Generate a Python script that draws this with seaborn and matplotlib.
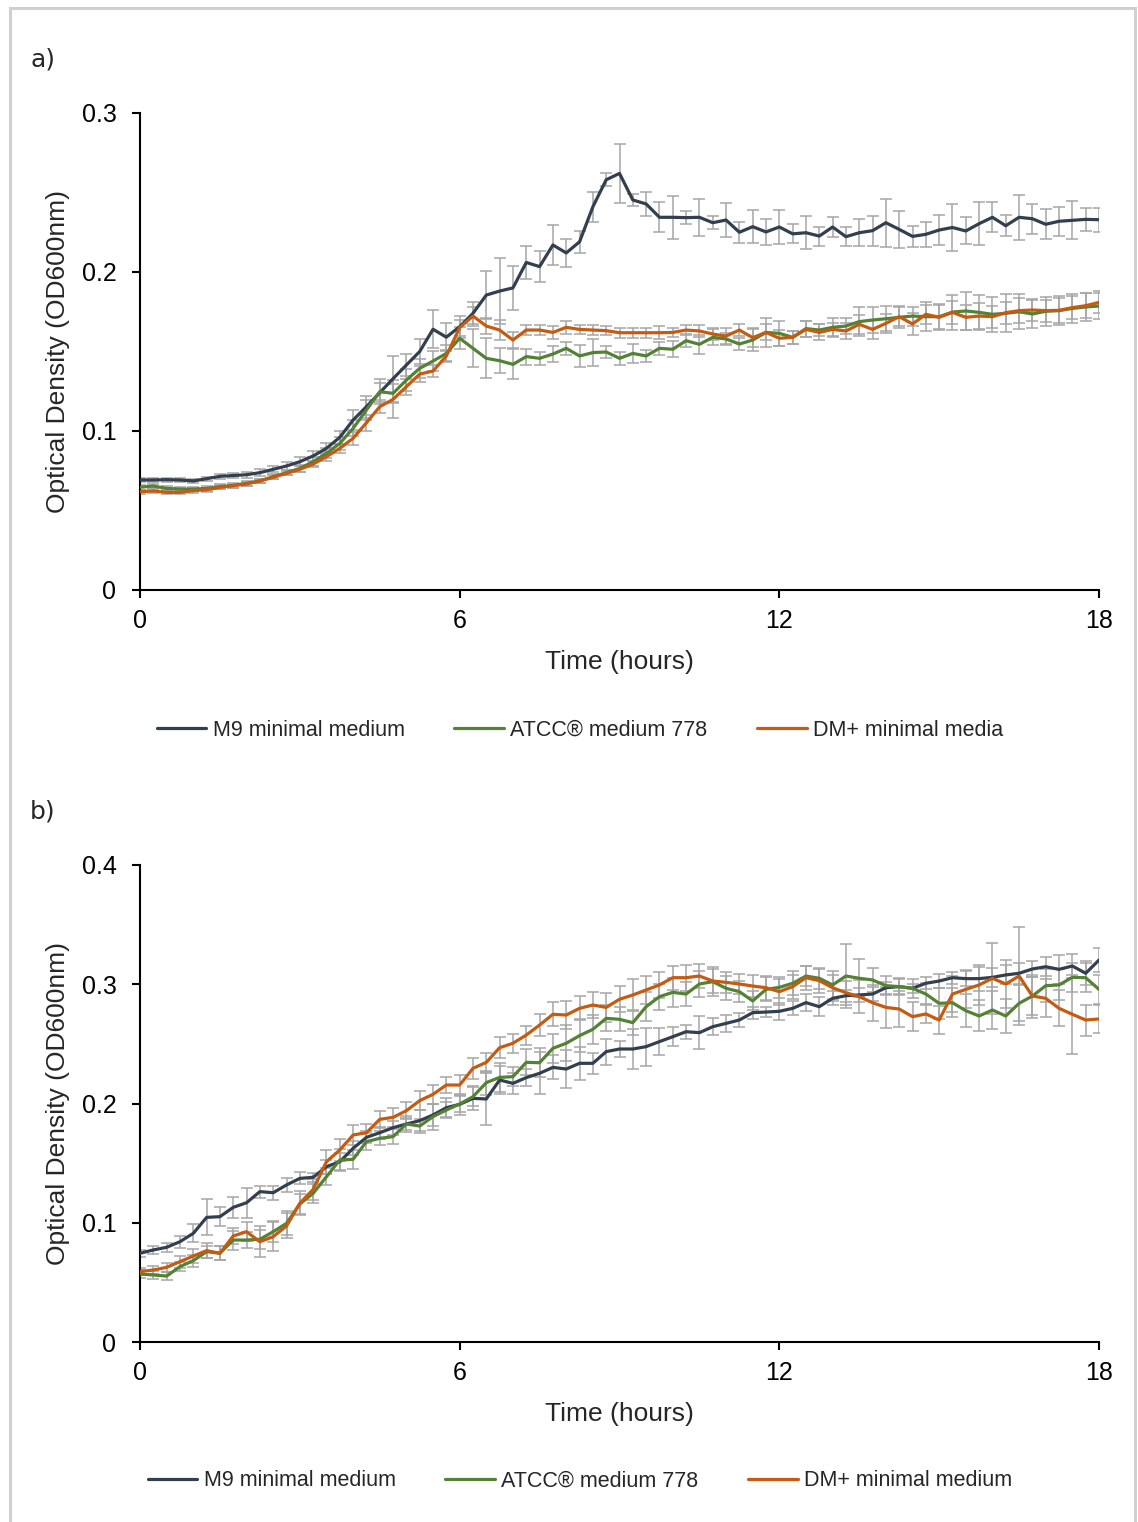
import numpy as np
import pandas as pd
import matplotlib
matplotlib.use("Agg")
import matplotlib.pyplot as plt
from matplotlib.lines import Line2D
from matplotlib.patches import Rectangle
import seaborn as sns

# ---------------- data ----------------
time_h = np.linspace(0, 18, 73)  # measurements every 15 min

labels_a = ["M9 minimal medium", "ATCC\u00ae medium 778", "DM+ minimal media"]
labels_b = ["M9 minimal medium", "ATCC\u00ae medium 778", "DM+ minimal medium"]

a_m9 = [0.0692, 0.0692, 0.0694, 0.0692, 0.0686, 0.0700, 0.0715, 0.0720, 0.0725, 0.0738,
        0.0759, 0.0780, 0.0807, 0.0843, 0.0891, 0.0960, 0.1069, 0.1153, 0.1241, 0.1329,
        0.1415, 0.1500, 0.1640, 0.1590, 0.1656, 0.1740, 0.1855, 0.1880, 0.1900, 0.2060,
        0.2034, 0.2170, 0.2120, 0.2190, 0.2410, 0.2580, 0.2620, 0.2453, 0.2428, 0.2344,
        0.2344, 0.2342, 0.2344, 0.2310, 0.2327, 0.2250, 0.2285, 0.2252, 0.2283, 0.2240,
        0.2247, 0.2226, 0.2283, 0.2222, 0.2247, 0.2260, 0.2310, 0.2268, 0.2224, 0.2237,
        0.2264, 0.2280, 0.2258, 0.2304, 0.2344, 0.2291, 0.2344, 0.2335, 0.2300, 0.2319,
        0.2325, 0.2331, 0.2329]
a_atcc = [0.0646, 0.0654, 0.0639, 0.0635, 0.0635, 0.0639, 0.0650, 0.0658, 0.0671, 0.0686,
          0.0713, 0.0738, 0.0765, 0.0807, 0.0860, 0.0922, 0.1017, 0.1132, 0.1247, 0.1237,
          0.1320, 0.1394, 0.1440, 0.1488, 0.1583, 0.1520, 0.1457, 0.1442, 0.1419, 0.1468,
          0.1457, 0.1484, 0.1520, 0.1472, 0.1493, 0.1497, 0.1457, 0.1488, 0.1472, 0.1520,
          0.1514, 0.1568, 0.1545, 0.1589, 0.1579, 0.1547, 0.1572, 0.1620, 0.1614, 0.1589,
          0.1644, 0.1635, 0.1652, 0.1660, 0.1688, 0.1698, 0.1706, 0.1715, 0.1723, 0.1719,
          0.1719, 0.1748, 0.1755, 0.1746, 0.1734, 0.1740, 0.1750, 0.1736, 0.1753, 0.1757,
          0.1771, 0.1780, 0.1786]
a_dm = [0.0618, 0.0623, 0.0614, 0.0614, 0.0625, 0.0631, 0.0646, 0.0656, 0.0667, 0.0686,
        0.0709, 0.0734, 0.0759, 0.0792, 0.0839, 0.0891, 0.0954, 0.1052, 0.1153, 0.1199,
        0.1279, 0.1358, 0.1377, 0.1472, 0.1650, 0.1723, 0.1660, 0.1635, 0.1572, 0.1635,
        0.1635, 0.1620, 0.1652, 0.1639, 0.1635, 0.1631, 0.1618, 0.1618, 0.1618, 0.1618,
        0.1620, 0.1635, 0.1629, 0.1610, 0.1597, 0.1635, 0.1587, 0.1620, 0.1583, 0.1589,
        0.1639, 0.1620, 0.1639, 0.1629, 0.1671, 0.1639, 0.1677, 0.1719, 0.1673, 0.1734,
        0.1715, 0.1746, 0.1715, 0.1723, 0.1719, 0.1744, 0.1757, 0.1761, 0.1757, 0.1759,
        0.1776, 0.1788, 0.1809]

a_m9_err = [0.0015, 0.0015, 0.0012, 0.0015, 0.0015, 0.0012, 0.0015, 0.0015, 0.0018, 0.0020,
            0.0020, 0.0025, 0.0030, 0.0030, 0.0035, 0.0040, 0.0060, 0.0070, 0.0060, 0.0145,
            0.0070, 0.0080, 0.0120, 0.0090, 0.0070, 0.0070, 0.0150, 0.0210, 0.0140, 0.0105,
            0.0100, 0.0125, 0.0090, 0.0070, 0.0095, 0.0040, 0.0185, 0.0040, 0.0075, 0.0095,
            0.0135, 0.0040, 0.0115, 0.0040, 0.0105, 0.0065, 0.0105, 0.0080, 0.0105, 0.0060,
            0.0105, 0.0060, 0.0060, 0.0060, 0.0085, 0.0095, 0.0150, 0.0115, 0.0065, 0.0080,
            0.0095, 0.0150, 0.0085, 0.0135, 0.0095, 0.0065, 0.0140, 0.0095, 0.0095, 0.0090,
            0.0120, 0.0070, 0.0075]
a_atcc_err = [0.0015, 0.0015, 0.0015, 0.0015, 0.0015, 0.0015, 0.0015, 0.0015, 0.0015, 0.0015,
              0.0015, 0.0015, 0.0020, 0.0030, 0.0030, 0.0040, 0.0050, 0.0060, 0.0080, 0.0060,
              0.0070, 0.0060, 0.0060, 0.0050, 0.0070, 0.0120, 0.0125, 0.0080, 0.0095, 0.0050,
              0.0040, 0.0050, 0.0040, 0.0070, 0.0085, 0.0040, 0.0040, 0.0060, 0.0040, 0.0040,
              0.0050, 0.0040, 0.0060, 0.0050, 0.0040, 0.0040, 0.0070, 0.0090, 0.0080, 0.0040,
              0.0050, 0.0040, 0.0060, 0.0050, 0.0090, 0.0080, 0.0080, 0.0070, 0.0060, 0.0090,
              0.0080, 0.0110, 0.0120, 0.0110, 0.0110, 0.0120, 0.0110, 0.0090, 0.0090, 0.0090,
              0.0090, 0.0090, 0.0080]
a_dm_err = [0.0012, 0.0012, 0.0012, 0.0012, 0.0012, 0.0012, 0.0012, 0.0012, 0.0012, 0.0012,
            0.0012, 0.0012, 0.0020, 0.0020, 0.0030, 0.0030, 0.0040, 0.0050, 0.0040, 0.0120,
            0.0050, 0.0050, 0.0040, 0.0040, 0.0050, 0.0060, 0.0050, 0.0060, 0.0050, 0.0030,
            0.0030, 0.0040, 0.0040, 0.0030, 0.0030, 0.0030, 0.0030, 0.0030, 0.0030, 0.0040,
            0.0030, 0.0030, 0.0040, 0.0040, 0.0050, 0.0040, 0.0060, 0.0050, 0.0050, 0.0040,
            0.0050, 0.0050, 0.0040, 0.0050, 0.0060, 0.0060, 0.0060, 0.0060, 0.0070, 0.0060,
            0.0080, 0.0070, 0.0080, 0.0080, 0.0070, 0.0070, 0.0080, 0.0070, 0.0070, 0.0080,
            0.0070, 0.0080, 0.0070]

b_m9 = [0.0744, 0.0772, 0.0794, 0.0841, 0.0911, 0.1045, 0.1051, 0.1129, 0.1168, 0.1261,
        0.1252, 0.1317, 0.1372, 0.1381, 0.1470, 0.1512, 0.1624, 0.1716, 0.1755, 0.1797,
        0.1828, 0.1856, 0.1904, 0.1965, 0.1993, 0.2043, 0.2038, 0.2197, 0.2169, 0.2217,
        0.2253, 0.2303, 0.2289, 0.2337, 0.2337, 0.2435, 0.2457, 0.2457, 0.2477, 0.2519,
        0.2560, 0.2602, 0.2594, 0.2644, 0.2672, 0.2700, 0.2762, 0.2767, 0.2773, 0.2798,
        0.2846, 0.2812, 0.2882, 0.2904, 0.2910, 0.2918, 0.2971, 0.2980, 0.2966, 0.3008,
        0.3027, 0.3055, 0.3047, 0.3047, 0.3058, 0.3078, 0.3092, 0.3128, 0.3147, 0.3125,
        0.3153, 0.3092, 0.3203]
b_atcc = [0.0570, 0.0562, 0.0553, 0.0632, 0.0682, 0.0758, 0.0744, 0.0855, 0.0855, 0.0861,
          0.0925, 0.0995, 0.1157, 0.1247, 0.1386, 0.1526, 0.1532, 0.1680, 0.1708, 0.1722,
          0.1828, 0.1811, 0.1890, 0.1945, 0.1996, 0.2057, 0.2175, 0.2219, 0.2225, 0.2345,
          0.2342, 0.2463, 0.2505, 0.2569, 0.2622, 0.2714, 0.2706, 0.2678, 0.2812, 0.2896,
          0.2932, 0.2918, 0.3002, 0.3022, 0.2966, 0.2938, 0.2860, 0.2957, 0.2974, 0.3008,
          0.3069, 0.3050, 0.2994, 0.3069, 0.3050, 0.3036, 0.2988, 0.2980, 0.2966, 0.2918,
          0.2840, 0.2845, 0.2778, 0.2734, 0.2784, 0.2734, 0.2840, 0.2901, 0.2988, 0.2994,
          0.3058, 0.3055, 0.2957]
b_dm = [0.0590, 0.0604, 0.0626, 0.0674, 0.0721, 0.0766, 0.0744, 0.0889, 0.0925, 0.0841,
        0.0883, 0.0973, 0.1163, 0.1280, 0.1512, 0.1610, 0.1736, 0.1755, 0.1867, 0.1884,
        0.1940, 0.2024, 0.2077, 0.2155, 0.2155, 0.2295, 0.2345, 0.2468, 0.2505, 0.2574,
        0.2658, 0.2748, 0.2742, 0.2798, 0.2826, 0.2806, 0.2874, 0.2910, 0.2952, 0.2994,
        0.3055, 0.3055, 0.3069, 0.3027, 0.3016, 0.3002, 0.2985, 0.2971, 0.2938, 0.2980,
        0.3055, 0.3030, 0.2971, 0.2929, 0.2896, 0.2845, 0.2806, 0.2792, 0.2728, 0.2751,
        0.2700, 0.2918, 0.2957, 0.2994, 0.3050, 0.3002, 0.3069, 0.2901, 0.2882, 0.2798,
        0.2748, 0.2700, 0.2709]

b_m9_err = [0.003, 0.003, 0.004, 0.005, 0.0075, 0.015, 0.008, 0.009, 0.0125, 0.005,
            0.006, 0.006, 0.005, 0.004, 0.006, 0.007, 0.006, 0.005, 0.005, 0.006,
            0.007, 0.009, 0.009, 0.008, 0.009, 0.010, 0.022, 0.012, 0.009, 0.007,
            0.0175, 0.010, 0.016, 0.014, 0.009, 0.011, 0.0065, 0.017, 0.016, 0.011,
            0.008, 0.006, 0.014, 0.007, 0.007, 0.006, 0.005, 0.004, 0.007, 0.006,
            0.007, 0.008, 0.006, 0.005, 0.006, 0.006, 0.005, 0.006, 0.004, 0.005,
            0.006, 0.005, 0.006, 0.010, 0.008, 0.008, 0.009, 0.007, 0.008, 0.012,
            0.010, 0.010, 0.010]
b_atcc_err = [0.003, 0.003, 0.003, 0.004, 0.005, 0.005, 0.006, 0.008, 0.007, 0.008,
              0.009, 0.010, 0.008, 0.008, 0.007, 0.009, 0.008, 0.007, 0.006, 0.006,
              0.005, 0.006, 0.011, 0.007, 0.007, 0.008, 0.010, 0.012, 0.008, 0.011,
              0.012, 0.012, 0.015, 0.014, 0.012, 0.011, 0.010, 0.010, 0.012, 0.011,
              0.012, 0.010, 0.011, 0.012, 0.010, 0.009, 0.008, 0.010, 0.009, 0.010,
              0.008, 0.009, 0.012, 0.027, 0.016, 0.010, 0.008, 0.007, 0.008, 0.009,
              0.013, 0.012, 0.014, 0.013, 0.016, 0.014, 0.015, 0.016, 0.014, 0.013,
              0.012, 0.012, 0.012]
b_dm_err = [0.003, 0.003, 0.004, 0.005, 0.006, 0.006, 0.006, 0.007, 0.008, 0.013,
            0.012, 0.0105, 0.010, 0.009, 0.010, 0.009, 0.008, 0.007, 0.007, 0.008,
            0.007, 0.008, 0.008, 0.007, 0.008, 0.009, 0.008, 0.009, 0.008, 0.008,
            0.009, 0.010, 0.012, 0.010, 0.011, 0.012, 0.011, 0.013, 0.012, 0.011,
            0.010, 0.011, 0.010, 0.010, 0.009, 0.008, 0.009, 0.010, 0.011, 0.010,
            0.010, 0.010, 0.011, 0.010, 0.014, 0.015, 0.017, 0.015, 0.012, 0.008,
            0.012, 0.015, 0.016, 0.017, 0.030, 0.020, 0.041, 0.018, 0.016, 0.015,
            0.033, 0.013, 0.012]

colors = ["#323F4F", "#548235", "#C55A11"]
err_color = "#A6A6A6"

# ---------------- style ----------------
sns.set_theme(style="ticks")
plt.rcParams["font.family"] = ["Liberation Sans", "DejaVu Sans"]
plt.rcParams["axes.linewidth"] = 1.5

W, H = 1138, 1522
fig = plt.figure(figsize=(W / 100, H / 100), dpi=100)
fig.patch.set_facecolor("white")

# outer light-grey frame
fig.add_artist(Rectangle((10 / W, -0.01), 1125 / W, 1.01 - 8 / H, transform=fig.transFigure,
                         fill=False, edgecolor="#D0D0D0", linewidth=2.2))


def make_panel(rect, series, errs, labels, ymax, letter, letter_y, legend_y, legend_x):
    ax = fig.add_axes(rect)
    frames = []
    for vals, lab in zip(series, labels):
        frames.append(pd.DataFrame({"time": time_h, "od": vals, "medium": lab}))
    df = pd.concat(frames, ignore_index=True)

    for vals, e in zip(series, errs):
        ax.errorbar(time_h, vals, yerr=e, fmt="none", ecolor=err_color, elinewidth=1.1,
                    capsize=4.5, capthick=1.1, zorder=1)
    sns.lineplot(data=df, x="time", y="od", hue="medium", palette=colors, hue_order=labels,
                 linewidth=2.3, legend=False, ax=ax, zorder=3)
    for ln in ax.get_lines():
        ln.set_solid_joinstyle("round")
        ln.set_solid_capstyle("round")

    ax.set_xlim(0, 18)
    ax.set_ylim(0, ymax)
    ax.set_xticks([0, 6, 12, 18])
    ax.set_xticklabels(["0", "6", "12", "18"])
    yt = np.round(np.arange(0, ymax + 0.001, 0.1), 1)
    ax.set_yticks(yt)
    ax.set_yticklabels(["0" if v == 0 else f"{v:.1f}" for v in yt])
    ax.tick_params(axis="both", direction="out", length=6, width=1.5, colors="black",
                   labelsize=18)
    ax.tick_params(axis="y", pad=11)
    ax.tick_params(axis="x", pad=8)
    sns.despine(ax=ax)
    for s in ["left", "bottom"]:
        ax.spines[s].set_color("black")
    ax.set_xlabel("Time (hours)", fontsize=19, labelpad=12)
    ax.set_ylabel("Optical Density (OD600nm)", fontsize=19)
    ax.yaxis.set_label_coords(-70 / (rect[2] * W), 0.5)

    fig.text(30 / W, 1 - letter_y / H, letter, fontsize=18, family="DejaVu Sans",
             va="center", ha="left")

    handles = [Line2D([0], [0], color=c, lw=2.3) for c in colors]
    fig.legend(handles, labels, loc="center", bbox_to_anchor=(legend_x / W, 1 - legend_y / H),
               ncol=3, frameon=False, fontsize=15.5, handlelength=2.3, handletextpad=0.3,
               columnspacing=2.3)
    return ax


axw = 959 / W
axh = 477 / H
make_panel([140 / W, 1 - 590 / H, axw, axh], [a_m9, a_atcc, a_dm],
           [a_m9_err, a_atcc_err, a_dm_err], labels_a, 0.3, "a)", 60, 730, 580)
make_panel([140 / W, 1 - 1342 / H, axw, axh], [b_m9, b_atcc, b_dm],
           [b_m9_err, b_atcc_err, b_dm_err], labels_b, 0.4, "b)", 812, 1481, 580)

fig.savefig("out.png", dpi=100, facecolor="white")
